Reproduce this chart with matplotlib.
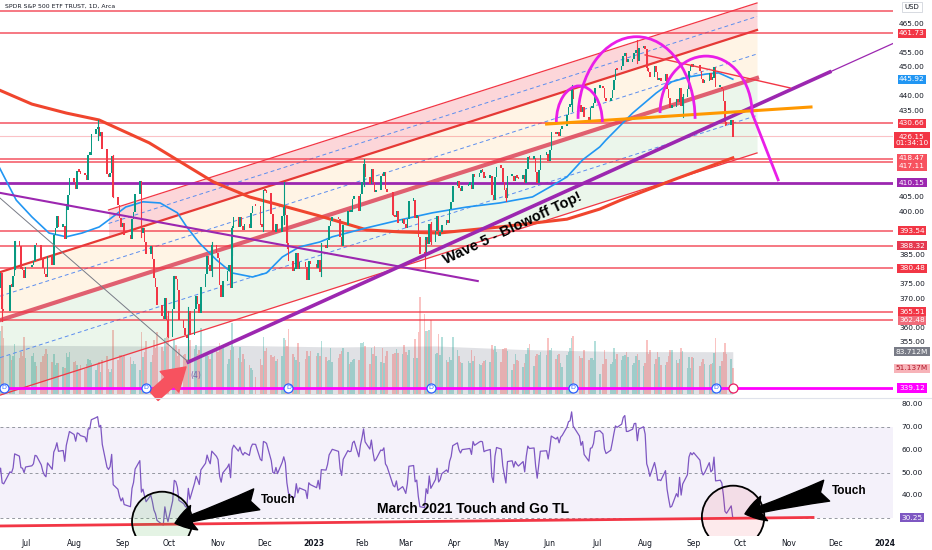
import numpy as np
import pandas as pd
import matplotlib
matplotlib.use("Agg")
import matplotlib.pyplot as plt
import matplotlib.dates as mdates
import matplotlib.transforms as mtrans
from matplotlib.patches import Arc, Ellipse
from pandas.tseries.offsets import CustomBusinessDay

# ---------------- data ----------------
holidays = ['2022-05-30', '2022-06-20', '2022-07-04', '2022-09-05', '2022-11-24',
            '2022-12-26', '2023-01-02', '2023-01-16', '2023-02-20', '2023-04-07',
            '2023-05-29', '2023-06-19', '2023-07-04', '2023-09-04']

# daily closes, 2022-05-16 .. 2023-09-26
closes = [
    400.1, 408.3, 391.9, 389.5, 389.6, 396.9, 393.9, 397.4, 405.3, 415.3, 412.9,
    409.6, 417.4, 410.5, 411.8, 415.3, 410.9, 401.4, 389.8, 375.0, 373.9,
    379.2, 366.7, 365.9, 375.1, 374.4, 378.1, 390.1, 388.6, 380.7, 380.3, 377.3,
    381.2, 382.0, 383.3, 389.0, 388.7, 384.2, 380.8, 378.8, 377.9, 385.1,
    382.0, 392.3, 394.8, 398.8, 395.1, 395.6, 390.9, 401.0, 406.1, 412.0,
    410.8, 408.1, 414.5, 414.2, 413.5, 413.0, 411.4, 420.0, 420.0, 427.1, 428.9, 429.7,
    426.7, 427.9, 422.1, 413.4, 412.4, 413.7, 419.5, 405.3, 402.6, 398.2, 395.2,
    396.4, 392.2, 390.8, 397.8, 400.4, 406.6, 411.0, 393.1, 394.6, 389.9, 385.6,
    388.6, 384.1, 377.4, 374.2, 368.0, 364.3, 363.4, 370.5, 362.8, 357.2,
    366.6, 378.0, 377.1, 373.2, 362.8, 360.0, 357.7, 356.6, 366.0, 357.6, 366.8,
    371.1, 368.5, 365.4, 374.3, 378.9, 384.9, 382.0, 380.0, 389.0, 386.2,
    384.5, 374.9, 371.0, 376.4, 380.0, 382.0, 374.1, 394.7, 398.5, 395.1, 398.5,
    395.5, 394.2, 396.0, 394.6, 399.9, 402.4, 402.3, 395.9, 395.2, 407.7,
    407.4, 406.9, 399.6, 393.8, 393.2, 396.2, 393.3, 399.0, 402.0, 399.4, 389.6,
    383.3, 380.0, 380.5, 386.2, 380.7, 382.9, 381.4, 376.7, 383.4, 382.4,
    380.8, 383.8, 379.4, 388.1, 387.9, 390.6, 395.5, 397.0, 398.5, 397.8,
    391.5, 388.6, 395.9, 400.6, 400.2, 400.4, 404.8, 405.7, 400.6, 406.5,
    410.8, 416.8, 412.4, 409.8, 415.2, 410.7, 407.1, 408.0, 412.8, 412.6,
    414.0, 408.3, 407.3, 399.1, 398.5, 400.7, 396.4, 397.7, 396.3,
    394.7, 397.8, 404.2, 404.5, 398.3, 398.9, 391.6, 385.9, 385.4, 391.7, 389.3, 396.1,
    390.0, 393.7, 398.9, 392.1, 393.2, 395.8, 397.5, 396.5, 401.4, 403.7, 409.4,
    411.0, 408.7, 407.6, 409.2, 409.6, 409.7, 408.1, 413.5, 412.5, 413.9,
    414.2, 414.1, 411.9, 412.2, 412.6, 406.1, 404.4, 412.4, 415.9,
    415.5, 410.8, 407.9, 405.1, 412.6, 412.9, 410.9, 412.9, 412.1, 411.6, 413.0,
    410.2, 415.2, 419.2, 418.6, 418.8, 414.1, 410.4, 414.7, 420.0, 420.2, 417.9,
    421.8, 427.9, 427.1, 428.0, 426.6, 429.1, 429.9, 433.8, 436.7, 437.2, 442.6,
    439.5, 437.2, 434.9, 436.5, 433.2, 431.4, 436.2, 436.4, 438.1, 443.3,
    443.8, 443.1, 439.7, 438.6, 439.7, 442.5, 446.0, 449.6, 449.3, 450.8,
    454.2, 455.2, 452.2, 452.2, 453.1, 455.4, 455.5, 452.5, 456.9, 457.8,
    456.5, 450.1, 448.8, 446.8, 450.7, 448.8, 445.8, 445.9, 445.7, 448.1, 442.9, 439.6,
    436.3, 436.5, 439.3, 438.2, 443.0, 436.9, 440.0, 442.8, 449.2, 451.0, 450.4,
    451.2, 449.2, 446.2, 444.9, 445.5, 448.5, 446.0, 446.5, 450.4, 443.4,
    443.6, 442.7, 438.6, 431.4, 430.4, 432.2, 426.15,
]

# daily volume in millions, same days
volumes = [
    79, 78, 117, 118, 146, 76, 90, 84, 83, 73, 96,
    86, 79, 71, 57, 68, 60, 87, 140, 133, 108,
    125, 134, 111, 77, 67, 76, 98, 71, 84, 75, 112,
    72, 76, 82, 64, 56, 63, 75, 79, 89, 79, 63, 80, 57, 62, 61, 54, 52, 81, 73, 84,
    63, 65, 57, 49, 57, 50, 59, 70, 68, 61, 48, 60, 64, 44, 68, 76, 50, 44, 50, 127, 67, 78, 78,
    74, 76, 74, 59, 65, 60, 48, 123, 73, 84, 104, 63, 77, 107, 90, 122, 93, 85, 110, 112, 153,
    89, 106, 96, 76, 89, 77, 80, 70, 147, 107, 89, 97, 80, 87, 131, 76, 82, 76, 69, 83, 93,
    84, 100, 88, 96, 60, 70, 87, 140, 92, 71, 93, 64, 80, 70, 58, 51, 47, 34, 69, 57, 112,
    86, 90, 77, 74, 76, 65, 70, 75, 111, 107, 94, 128, 80, 74, 68, 100, 63, 70, 85, 76, 85,
    75, 81, 76, 104, 74, 66, 68, 90, 63, 71, 79, 85, 91, 84, 60, 63, 68, 69, 68, 101,
    101, 102, 94, 60, 90, 79, 95, 76, 63, 90, 61, 76, 85, 80, 82, 89, 81, 79, 96,
    84, 77, 87, 72, 108, 71, 122, 190, 158, 124, 124, 126, 145, 80, 81, 119, 78, 112, 67, 63, 73, 67, 113,
    87, 75, 63, 62, 66, 62, 87, 66, 76, 60, 57, 61, 65, 67, 64, 97, 87, 94, 84,
    63, 88, 91, 90, 85, 48, 59, 80, 67, 65, 54, 62, 80, 90, 98, 56, 76, 80, 77, 84, 77, 110,
    87, 91, 70, 78, 79, 61, 53, 77, 84, 90, 110, 115, 75, 71, 71, 87, 67, 71, 72, 68, 104,
    40, 60, 87, 70, 59, 64, 91, 70, 80, 68, 76, 77, 84, 74, 58, 61, 75, 80, 67, 55,
    62, 107, 80, 87, 59, 70, 83, 73, 58, 58, 64, 75, 87, 87, 68, 61, 70, 91, 86, 51, 73, 51, 73,
    72, 56, 64, 69, 59, 58, 60, 61, 82, 110, 55, 66, 83, 101, 80, 70, 51,
]

# the long wicks that stand out in the picture: date -> (low, high)
wicks = {
    '2022-06-16': (362.2, 371.0), '2022-06-24': (380.4, 390.1), '2022-07-27': (393.1, 402.9),
    '2022-08-16': (425.0, 431.7), '2022-08-26': (405.0, 419.7), '2022-09-13': (391.4, 401.0),
    '2022-09-30': (356.8, 365.8), '2022-10-04': (369.7, 378.0), '2022-10-13': (348.1, 367.0),
    '2022-10-28': (377.8, 389.5), '2022-11-10': (385.0, 395.0), '2022-11-30': (393.3, 407.7),
    '2022-12-13': (396.0, 410.5), '2022-12-15': (387.6, 395.3), '2023-01-06': (377.8, 389.3),
    '2023-02-02': (409.0, 418.3), '2023-02-21': (398.9, 404.1), '2023-03-13': (380.6, 390.4),
    '2023-03-17': (388.9, 396.5), '2023-05-04': (403.8, 408.2), '2023-06-15': (434.9, 443.9),
    '2023-07-27': (451.6, 459.4), '2023-08-02': (449.1, 454.2), '2023-08-25': (432.7, 440.8),
    '2023-09-21': (430.0, 435.4),
}

volma_dates = ['2022-05-16', '2022-07-15', '2022-09-15', '2022-11-15', '2023-01-15',
               '2023-03-20', '2023-05-15', '2023-07-15', '2023-09-26']
volma_vals = [97, 96, 95, 96, 93, 95, 88, 84, 83.7]

sma50_dates = ['2022-06-14', '2022-06-25', '2022-07-05', '2022-07-16', '2022-07-27', '2022-08-06',
               '2022-08-17', '2022-08-23', '2022-09-03', '2022-09-14', '2022-09-25', '2022-10-06',
               '2022-10-12', '2022-10-20', '2022-10-31', '2022-11-10', '2022-11-23', '2022-12-02',
               '2022-12-12', '2022-12-23', '2023-01-05', '2023-01-13', '2023-02-04', '2023-02-25',
               '2023-03-18', '2023-04-09', '2023-04-30', '2023-05-21', '2023-06-01', '2023-06-12',
               '2023-06-22', '2023-07-03', '2023-07-07', '2023-07-24', '2023-08-08', '2023-08-18',
               '2023-08-29', '2023-09-09', '2023-09-17', '2023-09-26']
sma50_vals = [415.6, 404.1, 398.3, 392.7, 391.4, 392.7, 394.8, 397.2, 401.7, 403.5, 403.1, 399.7,
              394.8, 389.3, 383.4, 378.9, 377.5, 378.9, 384.4, 387.9, 389.6, 391.4, 394.5, 397.2,
              399.7, 401.7, 403.1, 405.2, 408.6, 412.1, 418.0, 422.5, 424.9, 434.2, 441.1, 445.0,
              446.7, 447.7, 448.1, 445.92]

sma200_dates = ['2022-06-14', '2022-07-05', '2022-07-27', '2022-08-17', '2022-09-18', '2022-10-08',
                '2022-10-29', '2022-11-21', '2022-12-15', '2023-01-05', '2023-02-04', '2023-02-25',
                '2023-03-22', '2023-04-30', '2023-06-12', '2023-07-03', '2023-07-16', '2023-08-19',
                '2023-09-26']
sma200_vals = [442.2, 437.3, 434.2, 431.8, 423.9, 417.3, 410.4, 405.2, 401.7, 398.6, 393.8, 393.1,
               392.7, 394.8, 397.5, 401.0, 404.0, 411.1, 418.7]

red_levels = [469.5, 461.73, 430.66, 418.47, 417.11, 393.54, 388.32, 380.48, 365.51, 362.48]
purple_level = 410.15
magenta_level = 339.12
last_price = 426.15

# right scale boxes: (shown at, text, background, text colour)
price_labels = [
    (461.73, '461.73', '#f23645', 'white'),
    (445.92, '445.92', '#2196f3', 'white'),
    (430.66, '430.66', '#f23645', 'white'),
    (424.9, '426.15\n01:34:10', '#f23645', 'white'),
    (418.6, '418.47', '#f7525f', 'white'),
    (415.8, '417.11', '#f7525f', 'white'),
    (410.15, '410.15', '#9c27b0', 'white'),
    (393.54, '393.54', '#f23645', 'white'),
    (388.32, '388.32', '#e53950', 'white'),
    (380.48, '380.48', '#f23645', 'white'),
    (365.51, '365.51', '#f23645', 'white'),
    (362.48, '362.48', '#f06c7a', 'white'),
    (339.12, '339.12', '#ff00ff', 'white'),
]
price_ticks = [465, 455, 450, 440, 435, 405, 400, 385, 375, 370, 360, 355]
vol_labels = [(83.712, '83.712M', '#787b86', 'white'), (51.137, '51.137M', '#f7b3b8', '#b2182b')]
rsi_ticks = [80, 70, 60, 50, 40]
rsi_last = 30.25

div_dates = ['2022-06-17', '2022-09-16', '2022-12-16', '2023-03-17', '2023-06-16', '2023-09-15']

# parallel channel: start (left edge), pink start, end
chan_x0, chan_xp, chan_x1 = '2022-06-14 15:00', '2022-08-23', '2023-10-11 12:00'
chan_start = {'l30': 379.17, 'm54': 370.87, 'l78': 362.57, 'm115': 349.61, 'l153': 336.64}
chan_pink_start = {'l3': 400.68, 'm16': 396.01, 'l30': 391.34}
chan_end = {'l3': 472.27, 'm16': 467.6, 'l30': 462.93, 'm54': 454.63, 'l78': 446.33,
            'm115': 433.37, 'l153': 420.40}

purple_up = [('2022-10-13', 348.1), ('2023-11-27', 448.4), ('2024-01-07', 458.4)]
purple_down = [('2022-06-14 15:00', 406.6), ('2023-04-16', 376.1)]
grey_line = [('2022-06-14 15:00', 404.8), ('2022-10-13', 348.1)]
neckline = [('2023-05-30', 430.4), ('2023-11-15', 436.3)]
red_down = [('2023-08-01', 454.3), ('2023-11-01 14:00', 442.9)]
# arcs: centre date, base price, width (days), height (price)
arcs = [('2023-06-19 22:00', 431.1, 29.4, 25.0),
        ('2023-07-26 12:00', 432.2, 74.8, 56.8),
        ('2023-09-08 22:00', 434.2, 58.8, 39.4)]
arc_drop = [('2023-10-08 07:00', 434.2), ('2023-10-25', 411.1)]

rsi_tl = [('2022-06-14 15:00', 26.6), ('2023-11-16 07:00', 30.35)]

months = pd.date_range('2022-07-01', '2024-01-01', freq='MS')


def dn(s):
    return mdates.date2num(pd.Timestamp(s))


def xy(pts):
    return [dn(p[0]) for p in pts], [p[1] for p in pts]


# ---------------- series ----------------
dates = pd.date_range('2022-05-16', '2023-09-26', freq=CustomBusinessDay(holidays=holidays))
n = min(len(dates), len(closes), len(volumes))
xd = mdates.date2num(dates[:n])
c = np.array(closes[:n])
v = np.array(volumes[:n])
o = np.r_[c[0], c[:-1]]
bull = c >= o

s = pd.Series(c)
diff = s.diff()
gain = diff.clip(lower=0).ewm(alpha=1 / 14, adjust=False).mean()
loss = (-diff.clip(upper=0)).ewm(alpha=1 / 14, adjust=False).mean()
rsi = 100 - 100 / (1 + gain / loss)

# ---------------- figure ----------------
W, H = 932, 550
fig = plt.figure(figsize=(W / 100, H / 100), dpi=100)
fig.patch.set_facecolor('white')
axv = fig.add_axes([0, 1 - 397 / H, 893 / W, 397 / H])
ax = fig.add_axes([0, 1 - 397 / H, 893 / W, 397 / H], sharex=axv)
axr = fig.add_axes([0, 1 - 536 / H, 893 / W, 138 / H], sharex=axv)
ax.set_zorder(axv.get_zorder() + 1)
ax.patch.set_visible(False)

xlim = (dn('2022-06-14 15:00'), dn('2024-01-06 10:00'))
for a in (ax, axv, axr):
    a.set_xlim(*xlim)
    for sp in a.spines.values():
        sp.set_visible(False)
    a.set_xticks([])
    a.set_yticks([])
ax.set_ylim(336.0, 473.3)
axv.set_ylim(-5.1, 773)
axr.set_ylim(22.2, 82.8)

# volume
axv.fill_between([dn(d) for d in volma_dates], 0, volma_vals, color='#b2b5be', alpha=0.4, lw=0)
axv.bar(xd, v, width=1.0, color=np.where(bull, '#26a69a', '#ef5350'), alpha=0.35, linewidth=0)

# channel fills
x0, xp, x1 = dn(chan_x0), dn(chan_xp), dn(chan_x1)
ax.fill_between([xp, x1], [chan_pink_start['l3'], chan_end['l3']],
                [chan_pink_start['l30'], chan_end['l30']], color=(0.95, 0.21, 0.27, 0.2), lw=0, zorder=1)
ax.fill_between([x0, x1], [chan_start['l30'], chan_end['l30']],
                [chan_start['l78'], chan_end['l78']], color=(1.0, 0.6, 0.0, 0.1), lw=0, zorder=1)
ax.fill_between([x0, x1], [chan_start['l78'], chan_end['l78']],
                [chan_start['l153'], chan_end['l153']], color=(0.3, 0.69, 0.31, 0.11), lw=0, zorder=1)
ax.plot([xp, x1], [chan_pink_start['l3'], chan_end['l3']], color='#f23645', lw=0.9, zorder=2)
ax.plot([xp, x1], [chan_pink_start['m16'], chan_end['m16']], color='#5b8def', lw=0.7, ls=(0, (4, 3)), zorder=2)
ax.plot([x0, x1], [chan_start['l30'], chan_end['l30']], color='#e53935', lw=1.6, zorder=2)
ax.plot([x0, x1], [chan_start['m54'], chan_end['m54']], color='#5b8def', lw=0.7, ls=(0, (4, 3)), zorder=2)
ax.plot([x0, x1], [chan_start['l78'], chan_end['l78']], color='#e06070', lw=3, zorder=2)
ax.plot([x0, x1], [chan_start['m115'], chan_end['m115']], color='#5b8def', lw=0.7, ls=(0, (4, 3)), zorder=2)
ax.plot([x0, x1], [chan_start['l153'], chan_end['l153']], color='#f23645', lw=0.9, zorder=2)

# horizontal levels
for lv in red_levels:
    ax.axhline(lv, color='#f23645', lw=1.1, alpha=0.85, zorder=2)
ax.axhline(last_price, color='#f23645', lw=0.8, alpha=0.3, zorder=2)
ax.axhline(purple_level, color='#9c27b0', lw=2, zorder=2)
ax.axhline(magenta_level, color='#ff00ff', lw=2, zorder=2)

# moving averages
ax.plot([dn(d) for d in sma200_dates], sma200_vals, color='#f0452e', lw=2.2, zorder=3)
ax.plot([dn(d) for d in sma50_dates], sma50_vals, color='#2196f3', lw=1.2, zorder=3)

# candles
ccol = np.where(bull, '#089981', '#f23645')
ax.bar(xd, np.maximum(np.abs(c - o), 0.9), bottom=np.minimum(o, c) - 0.3, width=1.0,
       color=ccol, linewidth=0, zorder=4)
day_index = {d.strftime('%Y-%m-%d'): i for i, d in enumerate(dates[:n])}
for d, (lo, hi) in wicks.items():
    i = day_index.get(d)
    if i is not None:
        ax.plot([xd[i], xd[i]], [lo, hi], color=ccol[i], lw=0.8, zorder=4)

# trend lines and drawings
px, py = xy(purple_up)
ax.plot(px[:2], py[:2], color='#9c27b0', lw=2.6, zorder=5)
ax.plot(px[1:], py[1:], color='#9c27b0', lw=0.9, zorder=5)
ax.plot(*xy(purple_down), color='#9c27b0', lw=1.5, zorder=5)
ax.plot(*xy(grey_line), color='#787b86', lw=0.7, zorder=5)
ax.plot(*xy(neckline), color='#ff9800', lw=2.2, zorder=5)
ax.plot(*xy(red_down), color='#f23645', lw=1.0, zorder=5)
for cd, base, w, h in arcs:
    ax.add_patch(Arc((dn(cd), base), w, h, theta1=0, theta2=180, color='#e91ee8', lw=2, zorder=6))
ax.plot(*xy(arc_drop), color='#e91ee8', lw=2, zorder=6)

narrow = ['Liberation Sans Narrow', 'Liberation Sans', 'DejaVu Sans']
ax.text(dn('2023-05-08 12:00'), 394.5, 'Wave 5 - Blowoff Top!', rotation=25.3, rotation_mode='anchor',
        ha='center', va='center', fontsize=10.5, fontweight='bold', family=narrow, zorder=7)

# arrow to the (4) low
ax.annotate('', xy=(dn('2022-10-11 12:00'), 346.4), xytext=(dn('2022-09-21'), 336.4),
            arrowprops=dict(arrowstyle='simple,head_length=0.8,head_width=1.0,tail_width=0.45',
                            color='#f7525f', mutation_scale=20, shrinkA=0, shrinkB=0), zorder=7)
ax.text(dn('2022-10-14'), 343.6, '(4)', fontsize=5.5, color='#7b5ea7', ha='left', va='center', zorder=7)

# dividend marks
ax.scatter([dn(d) for d in div_dates], [magenta_level] * len(div_dates), s=42, marker='o',
           facecolor='white', edgecolor='#2962ff', linewidth=0.9, zorder=8)
for d in div_dates:
    ax.text(dn(d), magenta_level, 'D', fontsize=4.5, color='#2962ff', ha='center', va='center', zorder=9)
ax.scatter([dn('2023-09-26')], [magenta_level], s=42, marker='o', facecolor='white',
           edgecolor='#e91e63', linewidth=0.9, zorder=8)

# right price scale
tr = mtrans.blended_transform_factory(ax.transAxes, ax.transData)
lx = 912 / 893
for val in price_ticks:
    ax.text(lx, val, '%.2f' % val, transform=tr, fontsize=5.3, color='#131722',
            ha='center', va='center', zorder=9)
for yv, txt, bg, fg in price_labels:
    ax.text(lx, yv, txt, transform=tr, fontsize=5.3, color=fg, ha='center', va='center',
            linespacing=1.0, zorder=10,
            bbox=dict(boxstyle='square,pad=0.22', fc=bg, ec='none'))
ax.text(lx, 1 - 7 / 397, 'USD', transform=ax.transAxes, fontsize=5, color='#131722', ha='center',
        va='center', zorder=10, bbox=dict(boxstyle='square,pad=0.35', fc='white', ec='#d1d4dc', lw=0.6))
trv = mtrans.blended_transform_factory(axv.transAxes, axv.transData)
for yv, txt, bg, fg in vol_labels:
    axv.text(lx, yv, txt, transform=trv, fontsize=5.3, color=fg, ha='center', va='center',
             bbox=dict(boxstyle='square,pad=0.22', fc=bg, ec='none'))

fig.text(5 / W, 1 - 6 / H, 'SPDR S&P 500 ETF TRUST, 1D, Arca', fontsize=4.4, color='#131722',
         ha='left', va='center')

# ---------------- RSI pane ----------------
axr.axhspan(30, 70, color='#7e57c2', alpha=0.08, lw=0)
for lv in (70, 50, 30):
    axr.axhline(lv, color='#9598a1', lw=0.7, ls=(0, (3, 3)))
axr.plot(xd, rsi, color='#7e57c2', lw=0.9, zorder=3)
axr.plot(*xy(rsi_tl), color='#f23645', lw=2, zorder=4)

axr.add_patch(Ellipse((dn('2022-09-26 05:00'), 28.5), 38.4, 26.3, fc=(0.3, 0.69, 0.31, 0.15),
                      ec='black', lw=1.3, zorder=5))
axr.add_patch(Ellipse((dn('2023-09-26 05:00'), 30.6), 39.9, 27.4, fc=(0.95, 0.21, 0.27, 0.1),
                      ec='black', lw=1.3, zorder=5))
arrow_kw = dict(arrowstyle='fancy,head_length=0.55,head_width=0.7,tail_width=0.6',
                fc='black', ec='black', mutation_scale=26, shrinkA=0, shrinkB=0)
axr.annotate('', xy=(dn('2022-10-04 12:00'), 27.8), xytext=(dn('2022-11-25 17:00'), 38.3),
             arrowprops=arrow_kw, zorder=6)
axr.annotate('', xy=(dn('2023-10-03 19:00'), 31.9), xytext=(dn('2023-11-25'), 42.1),
             arrowprops=arrow_kw, zorder=6)
axr.text(dn('2022-12-09 12:00'), 38.0, 'Touch', fontsize=8.5, fontweight='bold', family=narrow,
         ha='center', va='center', zorder=7)
axr.text(dn('2023-12-09 07:00'), 42.0, 'Touch', fontsize=8.5, fontweight='bold', family=narrow,
         ha='center', va='center', zorder=7)
axr.text(dn('2023-04-13'), 34.1, 'March 2021 Touch and Go TL', fontsize=10, fontweight='bold',
         family=narrow, ha='center', va='center', zorder=7)

trr = mtrans.blended_transform_factory(axr.transAxes, axr.transData)
for val in rsi_ticks:
    axr.text(lx, val, '%.2f' % val, transform=trr, fontsize=5.3, color='#131722', ha='center', va='center')
axr.text(lx, rsi_last, '%.2f' % rsi_last, transform=trr, fontsize=5.3, color='white', ha='center',
         va='center', bbox=dict(boxstyle='square,pad=0.22', fc='#7e57c2', ec='none'))

# pane separator
fig.add_artist(plt.Line2D([0, 1], [1 - 397.5 / H] * 2, color='#e0e3eb', lw=0.8))

# time axis
trt = mtrans.blended_transform_factory(axr.transData, axr.transAxes)
for m in months:
    if m.month == 1:
        lab, fw = str(m.year), 'bold'
    else:
        lab, fw = m.strftime('%b'), 'normal'
    axr.text(dn(m), -7 / 138, lab, transform=trt, fontsize=5.5, color='#131722', fontweight=fw,
             ha='center', va='center')

fig.savefig('out.png', dpi=100)
